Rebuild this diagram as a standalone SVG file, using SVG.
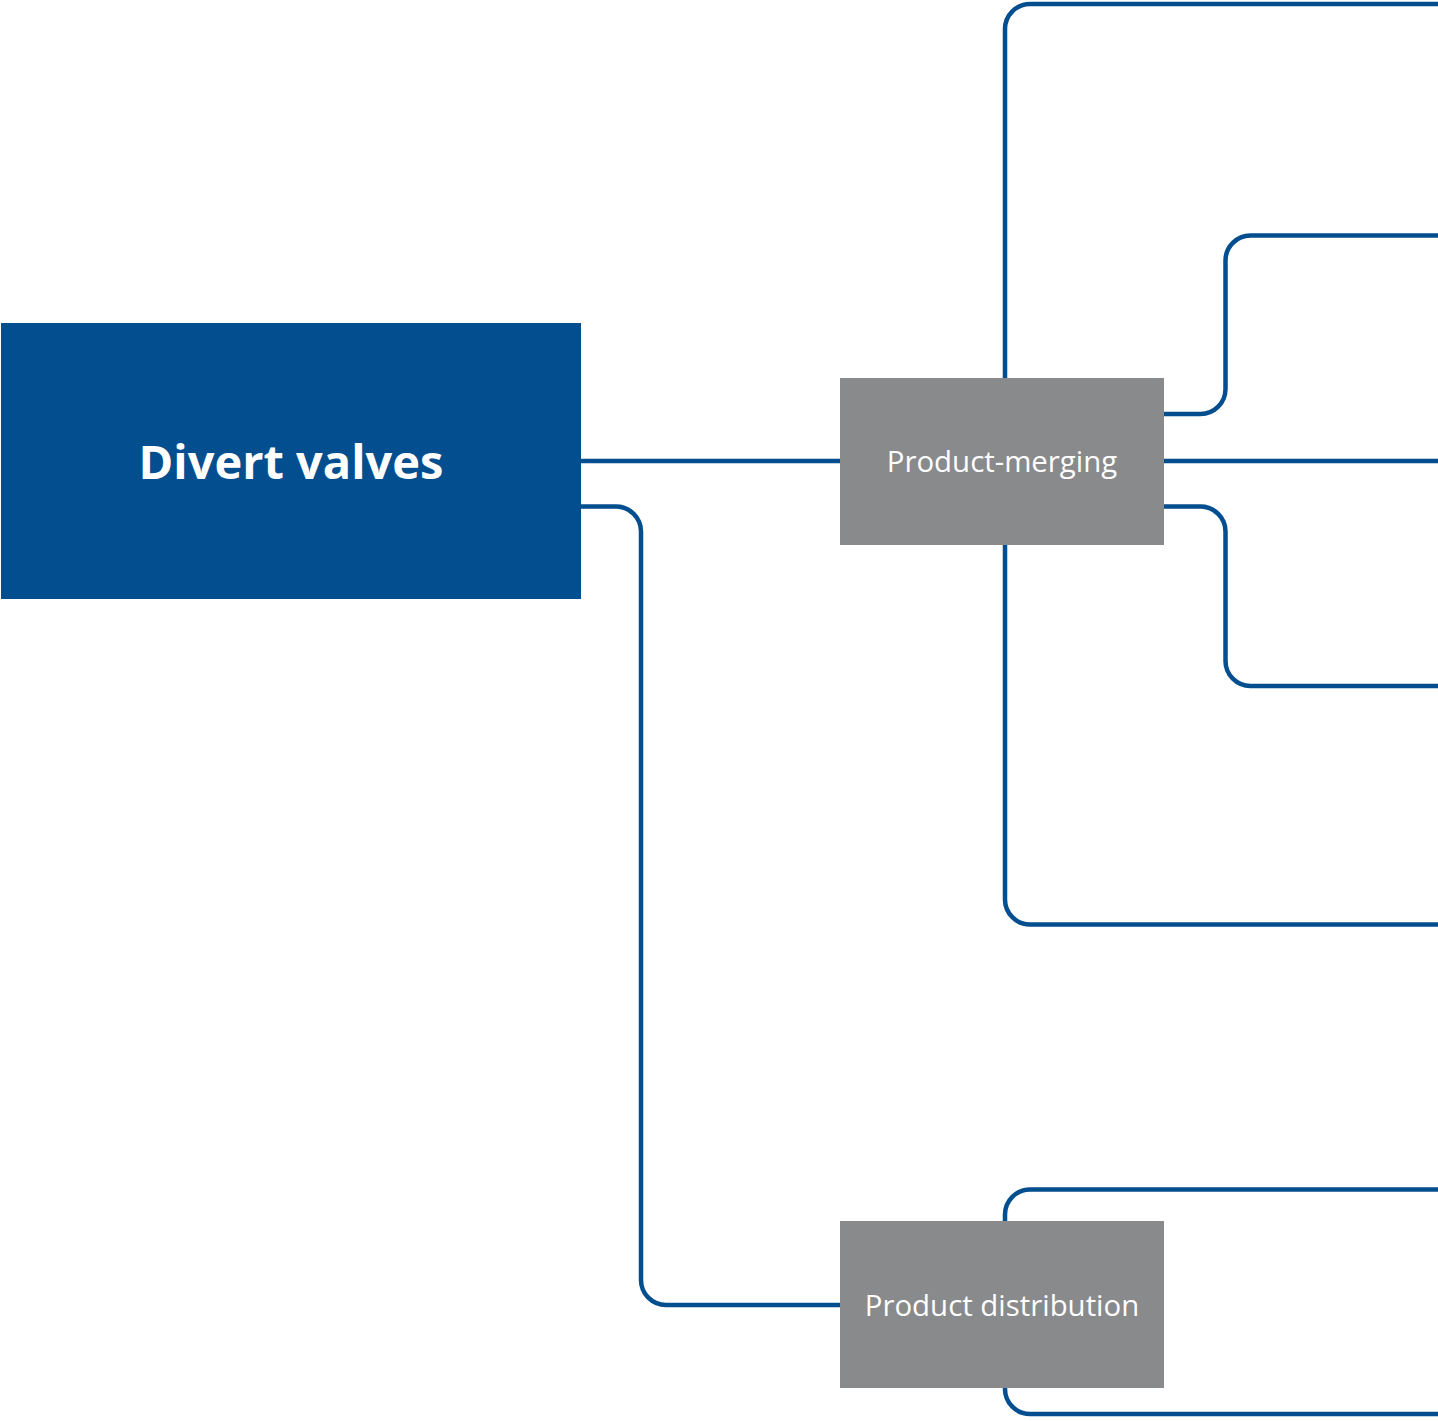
<svg xmlns="http://www.w3.org/2000/svg" width="1438" height="1421" viewBox="0 0 1438 1421">
<style>
.c{fill:none;stroke:#034E8E;stroke-width:4.5}
.main{fill:#034E8E}
.sub{fill:#898A8C}
.t1{font-family:"Open Sans","Noto Sans",sans-serif;font-weight:bold;font-size:47px;fill:#fff;text-anchor:middle}
.t2{font-family:"Open Sans","Noto Sans",sans-serif;font-size:29.4px;fill:#fff;text-anchor:middle}
</style>
<rect width="1438" height="1421" fill="#fff"/>
<g id="connectors">
<path class="c" d="M581 461H840"/>
<path class="c" d="M581 506.5H616A25 25 0 0 1 641 531.5V1280A25 25 0 0 0 666 1305H840"/>
<path class="c" d="M1005 378V29A25 25 0 0 1 1030 4H1438"/>
<path class="c" d="M1164 414H1200.5A25 25 0 0 0 1225.5 389V260.5A25 25 0 0 1 1250.5 235.5H1438"/>
<path class="c" d="M1164 461H1438"/>
<path class="c" d="M1164 506.5H1200.5A25 25 0 0 1 1225.5 531.5V661A25 25 0 0 0 1250.5 686H1438"/>
<path class="c" d="M1005 545V899.5A25 25 0 0 0 1030 924.5H1438"/>
<path class="c" d="M1005 1221V1214.5A25 25 0 0 1 1030 1189.5H1438"/>
<path class="c" d="M1005 1388V1389A25 25 0 0 0 1030 1414H1438"/>
</g>
<g id="divert-valves">
<rect class="main" x="1" y="323" width="580" height="276"/>
<text class="t1" x="291" y="479">Divert valves</text>
</g>
<g id="product-merging">
<rect class="sub" x="840" y="378" width="324" height="167"/>
<text class="t2" x="1002" y="472">Product-merging</text>
</g>
<g id="product-distribution">
<rect class="sub" x="840" y="1221" width="324" height="167"/>
<text class="t2" x="1002" y="1316">Product distribution</text>
</g>
</svg>
